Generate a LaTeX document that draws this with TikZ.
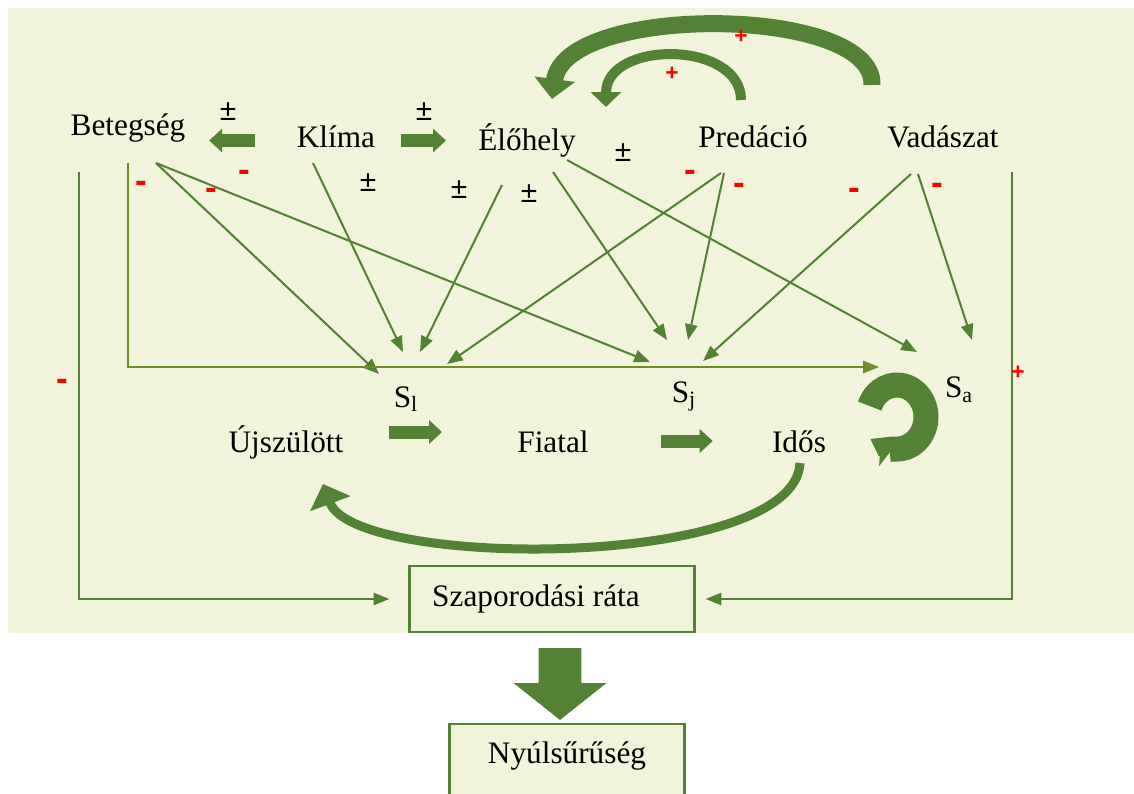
\documentclass[tikz,border=0pt]{standalone}
\usepackage{fontspec}
\setmainfont{Liberation Serif}
\setsansfont{Liberation Sans}
\usetikzlibrary{arrows.meta,positioning}

\definecolor{bgyel}{HTML}{F1F4DA}
\definecolor{fgreen}{HTML}{548235}
\definecolor{folive}{HTML}{6E8E2A}

\begin{document}
\begin{tikzpicture}
		[x=0.02cm,y=-0.02cm,
		lbl/.style={anchor=base,inner sep=0pt,text height=0.42cm,text depth=0.12cm,font=\fontsize{17.8}{20}\selectfont},
		thinarr/.style={draw=fgreen,line width=1.15pt,-{Triangle[length=9pt,width=7pt]}},
		fatarr/.style={draw=fgreen,line width=0.26cm,-{Triangle[length=0.26cm,width=0.46cm]}},
		curvarr/.style={draw=fgreen,-{Triangle[length=#1,width=2*#1]}},
		pm/.style={inner sep=0pt,font=\sffamily\fontsize{17}{17}\selectfont},
		redminus/.style={inner sep=0pt,text=red,font=\sffamily\bfseries\fontsize{20}{20}\selectfont},
		redplus/.style={inner sep=0pt,text=red,font=\sffamily\bfseries\fontsize{13}{13}\selectfont},
		box/.style={draw=fgreen,line width=1.3pt,fill=bgyel,font=\fontsize{17.8}{20}\selectfont}]
		
		\useasboundingbox (0,0) rectangle (1134,794);
		\clip (0,0) rectangle (1134,794);
		\fill[bgyel] (8,8) rectangle (1134,633);
		
		\node[lbl] (bet) at (128,136) {Betegség};
		\node[lbl] (kli) at (336,148) {Klíma};
		\node[lbl] (elo) at (527,151) {Élőhely};
		\node[lbl] (pre) at (753,148) {Predáció};
		\node[lbl] (vad) at (943,148) {Vadászat};
		
		\node[lbl] (ujs) at (286,452) {Újszülött};
		\node[lbl] (fia) at (553,452) {Fiatal};
		\node[lbl] (ido) at (799,452) {Idős};
		
		\node[lbl] (sl) at (406,407) {S\textsubscript{l}};
		\node[lbl] (sj) at (684,402) {S\textsubscript{j}};
		\node[lbl] (sa) at (959,398) {S\textsubscript{a}};
		
		\node[box,minimum width=5.7cm,minimum height=1.32cm] (sza) at (552,599) {Szaporodási ráta\hspace*{0.64cm}};
		\node[box,anchor=north,minimum width=4.7cm,inner ysep=0.32cm,text height=0.47cm,text depth=1.6cm] (nyu) at (567,723) {Nyúlsűrűség};
		
		% start and end points of the thin arrows
		\coordinate (b0) at (128,163);
		\coordinate (b1) at (156,163);
		\coordinate (b2) at (79,172);
		\coordinate (k1) at (313,163);
		\coordinate (e1) at (502,185);
		\coordinate (e2) at (553,172);
		\coordinate (e3) at (567,160);
		\coordinate (p1) at (721,173);
		\coordinate (p2) at (724,173);
		\coordinate (v1) at (911,174);
		\coordinate (v2) at (918,174);
		\coordinate (v3) at (1012,172);
		
		\coordinate (sl1) at (379,374);
		\coordinate (sl2) at (403,352);
		\coordinate (sl3) at (420,352);
		\coordinate (sl4) at (447,364);
		\coordinate (sj1) at (650,362);
		\coordinate (sj2) at (667,340);
		\coordinate (sj3) at (688,340);
		\coordinate (sj4) at (703,361);
		\coordinate (sa0) at (879,367);
		\coordinate (sa1) at (917,352);
		\coordinate (sa2) at (972,340);
		
		\draw[thinarr] (b1) -- (sl1);
		\draw[thinarr] (b1) -- (sj1);
		\draw[thinarr] (k1) -- (sl2);
		\draw[thinarr] (e1) -- (sl3);
		\draw[thinarr] (e2) -- (sj2);
		\draw[thinarr] (e3) -- (sa1);
		\draw[thinarr] (p1) -- (sl4);
		\draw[thinarr] (p2) -- (sj3);
		\draw[thinarr] (v1) -- (sj4);
		\draw[thinarr] (v2) -- (sa2);
		\draw[thinarr,draw=folive] (b0) |- (sa0);
		\draw[thinarr,shorten >=0.38cm] (b2) |- (sza.west);
		\draw[thinarr,shorten >=0.2cm] (v3) |- (sza.east);
		
		\draw[fatarr,shorten <=0.84cm,shorten >=0.47cm] (kli.west) -- (kli.west -| bet.east);
		\draw[fatarr,shorten <=0.52cm,shorten >=0.64cm] (kli.east) -- (kli.east -| elo.west);
		\draw[fatarr,shorten <=0.91cm,shorten >=1.5cm] ([yshift=0.25cm]ujs.east) -- ([yshift=0.25cm]ujs.east -| fia.west);
		\draw[fatarr,shorten <=1.44cm,shorten >=1.18cm] ([yshift=0.07cm]fia.east) -- ([yshift=0.07cm]fia.east -| ido.west);
		\draw[draw=fgreen,line width=0.86cm,-{Triangle[length=0.74cm,width=1.82cm]},shorten <=0.3cm,shorten >=0.06cm] ([xshift=0.16cm]sza.south) -- ([xshift=-0.14cm]nyu.north);
		
		% curved feedback arrows
		\coordinate (pa) at (741,100);
		\coordinate (ea) at (606,107);
		\coordinate (va) at (872,85);
		\coordinate (eb) at (552,99);
		\coordinate (ia) at (800,463);
		\coordinate (ua) at (323,484);
		\coordinate (sac) at (897,417);
		\draw[curvarr=0.3cm,line width=0.2cm] (pa) .. controls (741,40) and (606,40) .. (ea);
		\draw[curvarr=0.4cm,line width=0.34cm] (va) .. controls (875,5) and (565,3) .. (eb);
		\draw[curvarr=0.42cm,line width=0.18cm] (ia) .. controls (795,570) and (355,570) .. (ua);
		\draw[draw=fgreen,line width=0.5cm,-{Triangle[length=0.26cm,width=0.74cm]}] (sac) ++(200:29 and 32) arc[start angle=200,end angle=485,x radius=29,y radius=32];
		
		\node[pm] at (228,112) {±};
		\node[pm] at (424,112) {±};
		\node[pm] at (368,183) {±};
		\node[pm] at (459,190) {±};
		\node[pm] at (529,194) {±};
		\node[pm] at (623,153) {±};
		
		\node[redminus] at (141,187) {-};
		\node[redminus] at (211,194) {-};
		\node[redminus] at (244,176) {-};
		\node[redminus] at (690,176) {-};
		\node[redminus] at (739,189) {-};
		\node[redminus] at (854,194) {-};
		\node[redminus] at (937,189) {-};
		\node[redminus] at (62,385) {-};
		\node[redplus] at (1018,373) {+};
		\node[redplus] at (741,37) {+};
		\node[redplus] at (672,74) {+};
		
\end{tikzpicture}
\end{document}
